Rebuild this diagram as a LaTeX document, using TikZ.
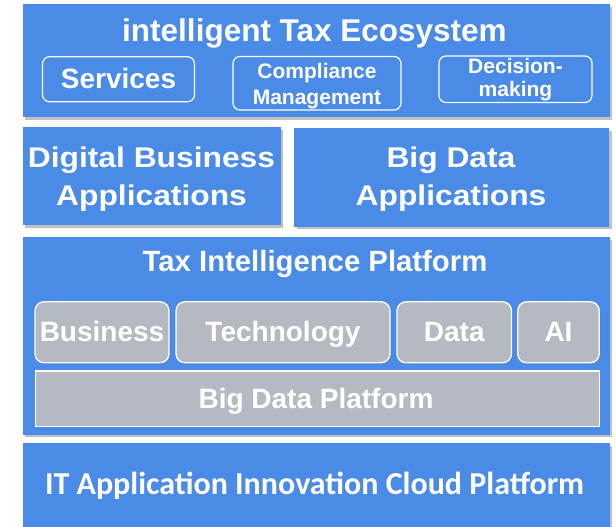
\documentclass[tikz,border=0pt]{standalone}
\usepackage{fontspec}
\setmainfont{Liberation Sans}
\newfontfamily\carlito{Carlito}
\usetikzlibrary{shadows}
\definecolor{boxblue}{RGB}{74,139,231}
\definecolor{boxgray}{RGB}{180,185,194}
\tikzset{
  bluebox/.style={draw=none, fill=boxblue, minimum width=#1, inner sep=0pt,
    drop shadow={opacity=0.35, shadow xshift=2.5pt, shadow yshift=-2.5pt, fill=black!70}},
  outlinebox/.style={draw=white, line width=1.2pt, rounded corners=7pt, inner sep=0pt},
  graybox/.style={draw=white, line width=1.3pt, fill=boxgray, rounded corners=9pt, inner sep=0pt,
    drop shadow={opacity=0.3, shadow xshift=1pt, shadow yshift=-1pt, fill=black!60}},
  flatgray/.style={draw=white, line width=1.3pt, fill=boxgray, inner sep=0pt},
  label/.style={text=white, anchor=base, inner sep=0pt},
  f31/.style={font=\bfseries\fontsize{31.5}{31.5}\selectfont},
  f29/.style={font=\bfseries\fontsize{29.3}{29.3}\selectfont},
  f28/.style={font=\bfseries\fontsize{28}{28}\selectfont},
  f21/.style={font=\bfseries\fontsize{21}{21}\selectfont},
  wide/.style={font=\bfseries\fontsize{28.5}{28.5}\selectfont},
}
\newcommand{\widetxt}[1]{\scalebox{1.115}[1]{#1}}
\begin{document}
\begin{tikzpicture}[x=1pt, y=-1pt]
\useasboundingbox (0,0) rectangle (616,527);
% boxes
\node[bluebox=587pt, minimum height=112.5pt] (eco) at (316,60.75) {};
\node[bluebox=258pt, minimum height=98pt] (dba) at (151.5,176) {};
\node[bluebox=315pt, minimum height=98.5pt] (bda) at (451.5,177.25) {};
\node[bluebox=587pt, minimum height=197.5pt] (tip) at (316,335.75) {};
\node[bluebox=587pt, minimum height=88pt] (itp) at (316,487) {};
% top sub-boxes
\node[outlinebox, minimum width=152pt, minimum height=45pt] (svc) at (118.5,79.25) {};
\node[outlinebox, minimum width=168pt, minimum height=53.5pt] (cmp) at (317,83.25) {};
\node[outlinebox, minimum width=153pt, minimum height=46.5pt] (dec) at (515.5,79.25) {};
% gray boxes
\node[graybox, minimum width=134pt, minimum height=61pt] (bus) at (102,332.3) {};
\node[graybox, minimum width=214pt, minimum height=61pt] (tec) at (283,332.3) {};
\node[graybox, minimum width=114.5pt, minimum height=61pt] (dat) at (454.25,332.3) {};
\node[graybox, minimum width=81.5pt, minimum height=61pt] (ai) at (558.5,332.3) {};
\node[flatgray, minimum width=564.5pt, minimum height=55.5pt] (bdp) at (317.5,398.7) {};
% labels
\node[label, f31] (ecot) at (314.5,42) {intelligent Tax Ecosystem};
\node[label, f28] (svct) at (118.5,88.3) {Services};
\node[label, f21] (cmpt1) at (317,79) {Compliance};
\node[label, f21] (cmpt2) at (317,104.3) {Management};
\node[label, f21] (dect1) at (515.5,73.3) {Decision-};
\node[label, f21] (dect2) at (515.5,96.7) {making};
\node[label, wide] (dbat1) at (151.5,167.7) {\widetxt{Digital Business}};
\node[label, wide] (dbat2) at (151.5,205.7) {\widetxt{Applications}};
\node[label, wide] (bdat1) at (451,167.7) {\widetxt{Big Data}};
\node[label, wide] (bdat2) at (451,205.7) {\widetxt{Applications}};
\node[label, f29] (tipt) at (315,271.7) {Tax Intelligence Platform};
\node[label, f28] (bust) at (102,341.7) {Business};
\node[label, f28] (tect) at (283,341.7) {Technology};
\node[label, f28] (datt) at (454.25,341.7) {Data};
\node[label, f28] (ait) at (558.5,341.7) {AI};
\node[label, f28] (bdpt) at (316,408.3) {Big Data Platform};
\node[label, font=\carlito\bfseries\fontsize{32}{32}\selectfont] (itpt) at (314.5,494.3) {IT Application Innovation Cloud Platform};
\end{tikzpicture}
\end{document}
